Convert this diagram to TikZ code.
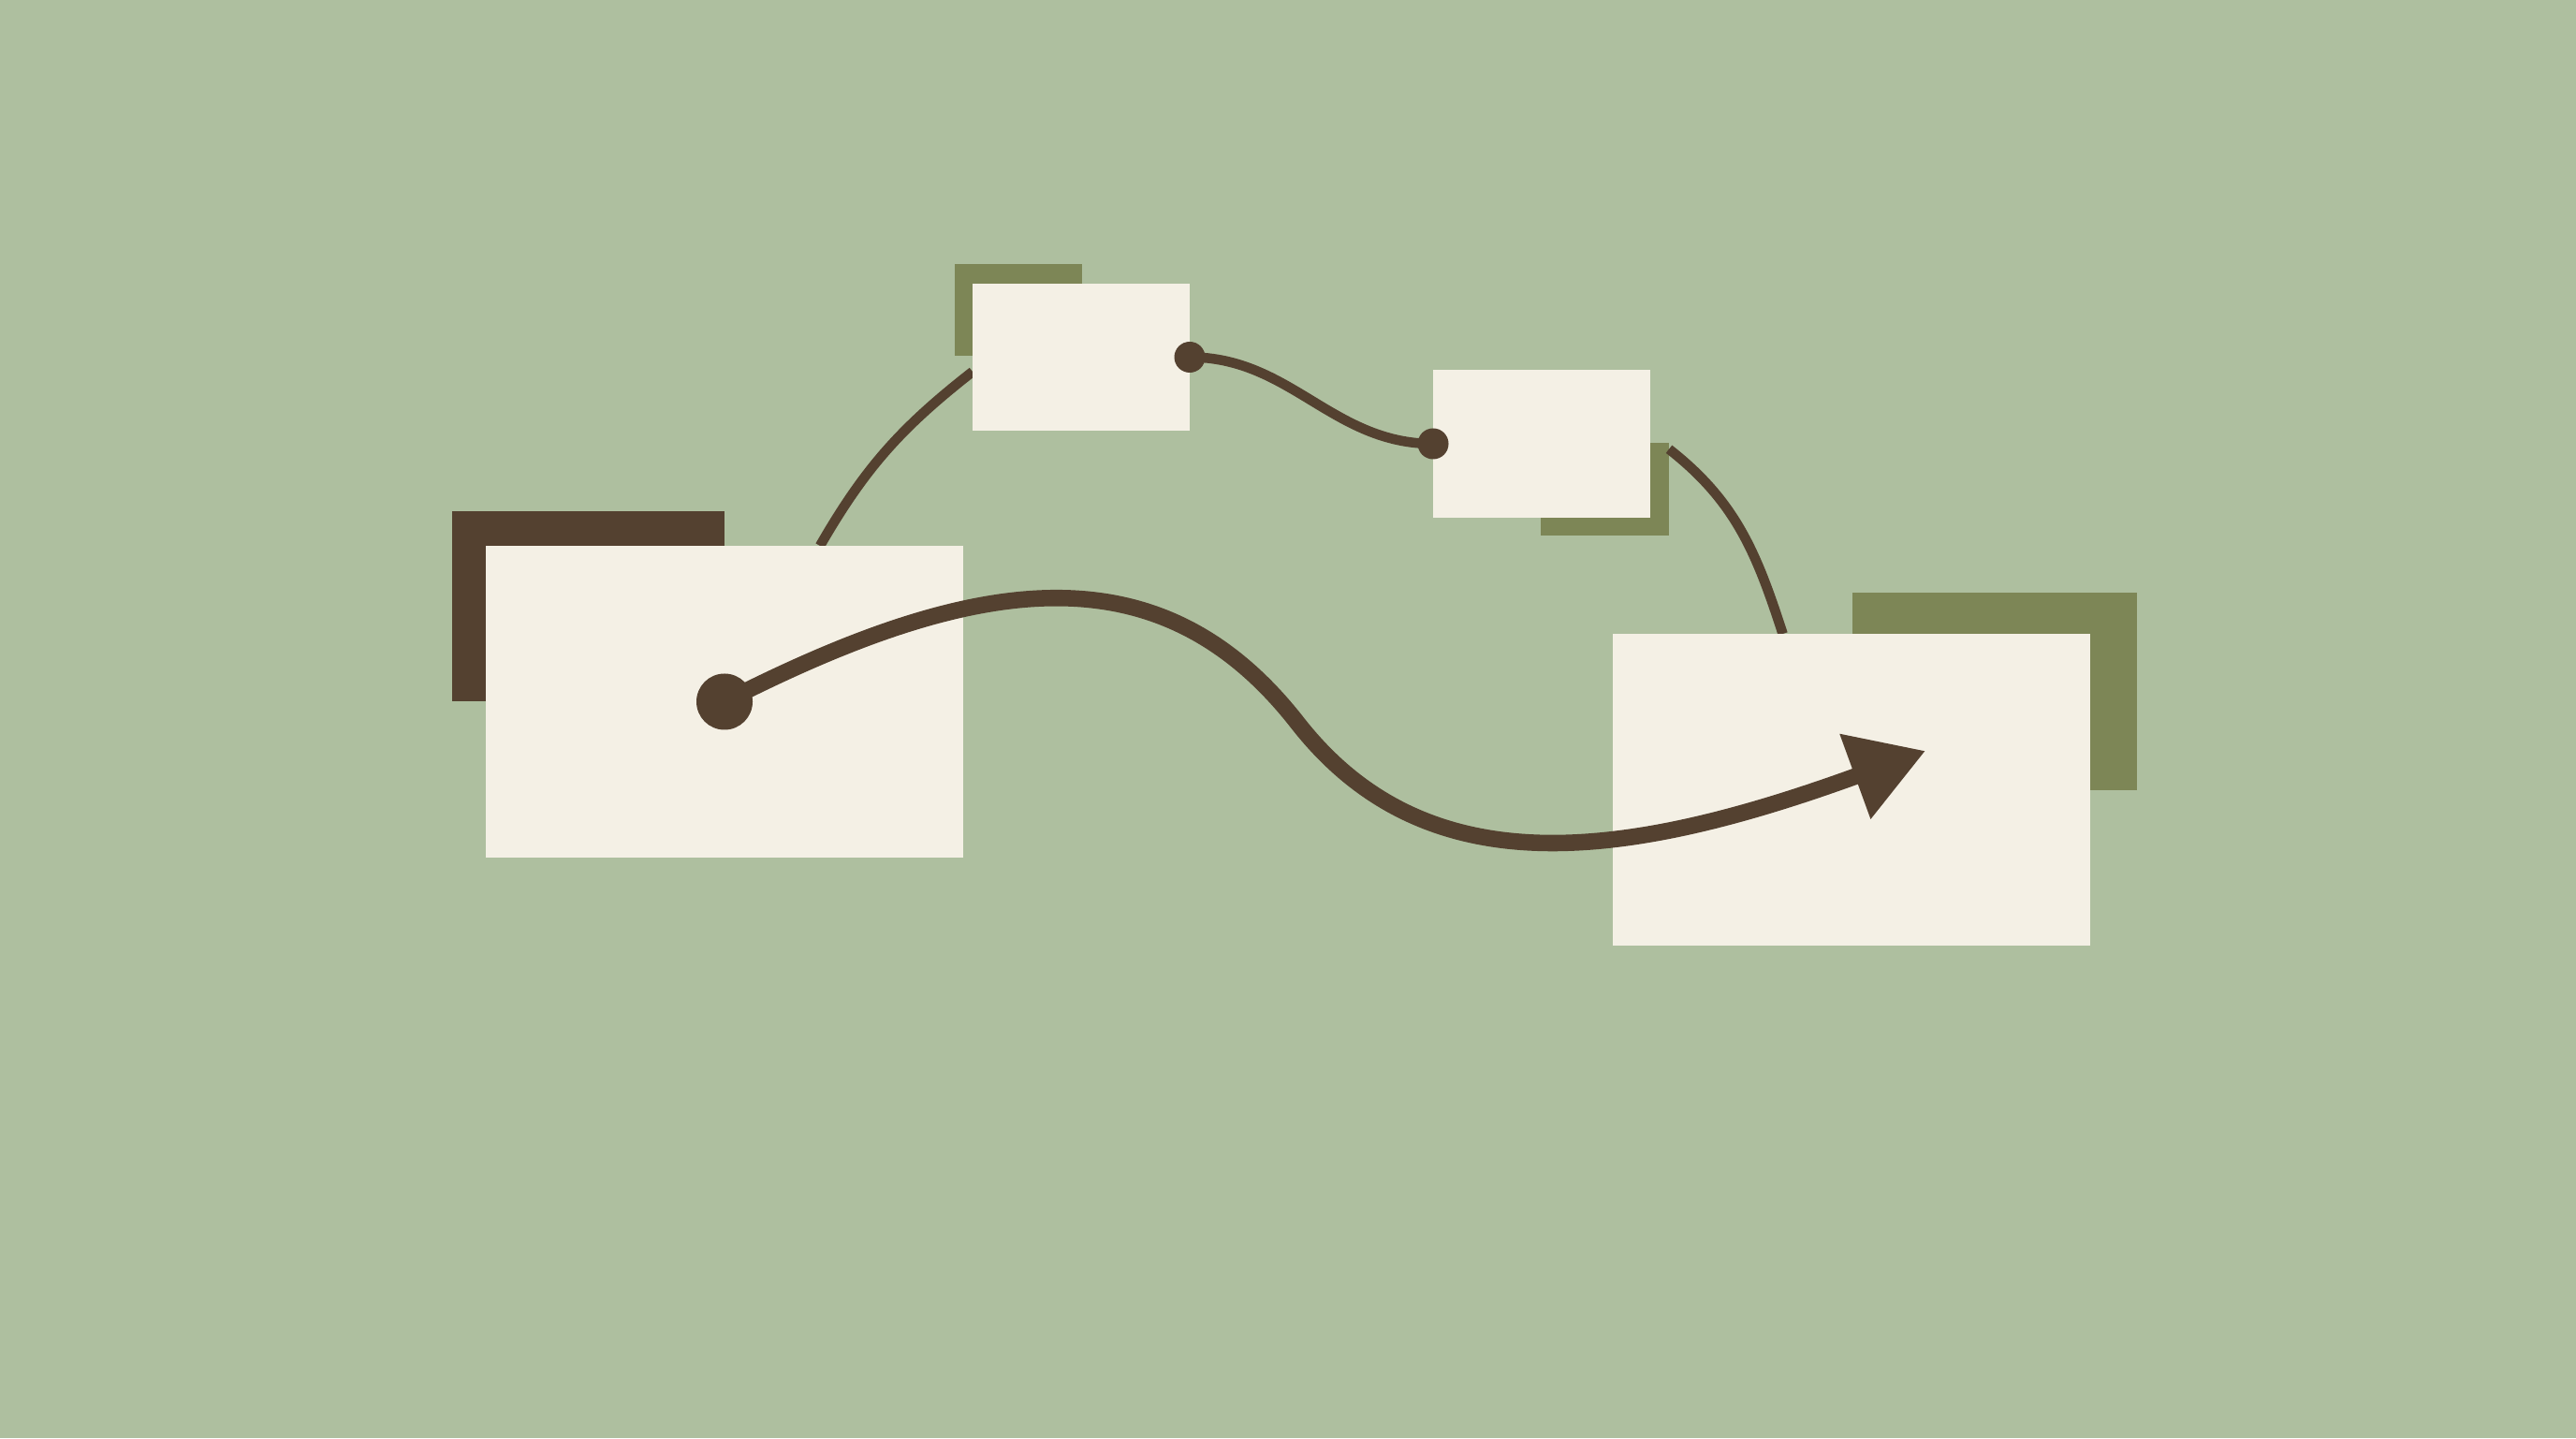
\documentclass[tikz,border=0pt]{standalone}
\usepackage{tikz}
\usetikzlibrary{positioning}
\usetikzlibrary{backgrounds}
\usetikzlibrary{calc}
\usetikzlibrary{arrows.meta}
\definecolor{sage}{RGB}{174,191,159}
\definecolor{cream}{RGB}{244,240,229}
\definecolor{bark}{RGB}{84,65,48}
\definecolor{moss}{RGB}{125,134,86}

\begin{document}
\begin{tikzpicture}[
         card/.style={rectangle,fill=cream,inner sep=0,outer sep=0,minimum width=5.1cm,minimum height=3.33cm},
         tag/.style={card,minimum width=2.32cm,minimum height=1.575cm},
         shade/.style={rectangle,inner sep=0,outer sep=0},
         link/.style={bark,line width=3pt},
         flow/.style={-{Triangle[length=0.8cm,width=0.92cm]},bark,line width=5pt},
         dot/.style={fill=bark}]
      \useasboundingbox (0,0) rectangle (27.52,15.36);
         \begin{pgfonlayer}{background}
            % Draw the background
            \fill[sage] (0,0) rectangle (27.52,15.36);
         \end{pgfonlayer}
      %
         \node (lbox) at (7.74,7.865) [card] {};
         \node (rbox) at (19.775,6.925) [card] {};
         \node (tagA) at (11.55,11.545) [tag] {};
         \node (tagB) at (16.47,10.62) [tag] {};
      %%
         \begin{pgfonlayer}{background}
            % Shadows behind the cards
            \node (lsh) [shade,fill=bark,anchor=south east,minimum width=2.91cm,minimum height=2.03cm] at (lbox.center) {};
            \node (shA) [shade,fill=moss,anchor=north west,minimum width=1.36cm,minimum height=0.98cm] at ($(tagA.north west)+(-0.19,0.21)$) {};
            \node (shB) [shade,fill=moss,anchor=south east,minimum width=1.37cm,minimum height=0.99cm] at ($(tagB.south east)+(0.2,-0.19)$) {};
            \node (rsh) [shade,fill=moss,anchor=north east,minimum width=3.04cm,minimum height=2.11cm] at ($(rbox.north east)+(0.5,0.44)$) {};
            % Thin links between the cards
            \draw[link] ($(lbox.north west)!0.7!(lbox.north east)$) to[out=60,in=218] ($(tagA.west)+(0,-0.155)$);
            \draw[link] ($(shB.north east)+(0,-0.07)$) to[out=-38,in=108] ($(rbox.north west)!0.357!(rbox.north east)$);
         \end{pgfonlayer}
      %
         \draw[link] (tagA.east) to[out=0,in=180] (tagB.west);
         \fill[dot] (tagA.east) circle (0.165);
         \fill[dot] (tagB.west) circle (0.165);
      %
         \coordinate (bend) at (13.86,7.64);
         \coordinate (tip) at (20.57,7.34);
         \draw[flow] (lbox.center) .. controls +(27:3.0) and +(128:2.4) .. (bend)
            .. controls +(-52:2.2) and +(200:3.5) .. (tip);
         \fill[dot] (lbox.center) circle (0.3);
   \end{tikzpicture}
\end{document}
